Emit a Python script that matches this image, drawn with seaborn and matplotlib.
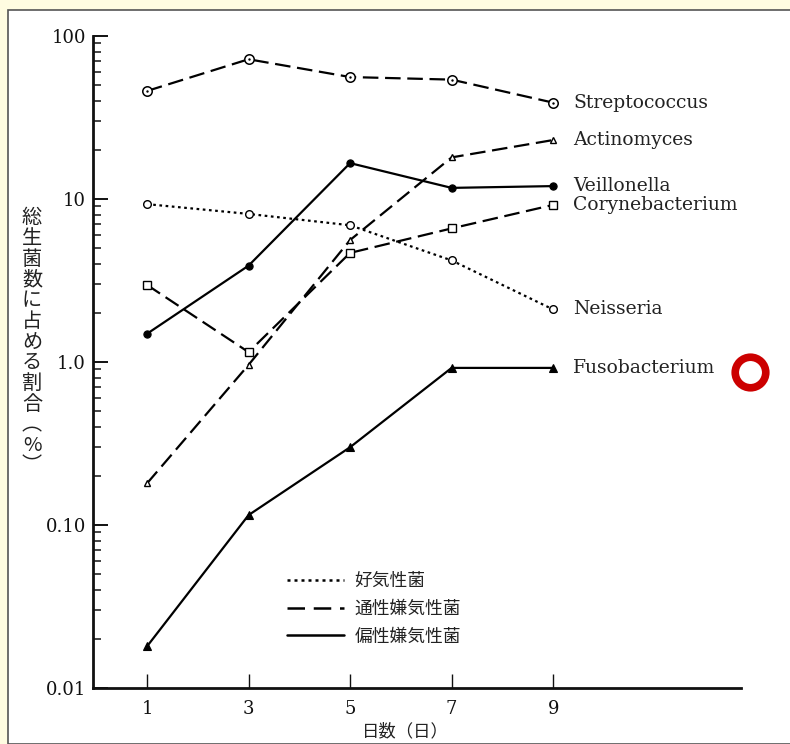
import matplotlib
matplotlib.use("Agg")
import matplotlib.pyplot as plt
import seaborn as sns
import numpy as np
from matplotlib.lines import Line2D
from matplotlib.patches import Rectangle
from matplotlib.ticker import LogLocator, FixedLocator, NullFormatter

# ---- data ----
days = [1, 3, 5, 7, 9]
streptococcus = [46, 72, 56, 54, 39]
actinomyces = [0.18, 0.96, 5.6, 18, 23]
veillonella = [1.49, 3.9, 16.6, 11.7, 12]
corynebacterium = [2.97, 1.15, 4.67, 6.6, 9.2]
neisseria = [9.3, 8.1, 6.9, 4.2, 2.1]
fusobacterium = [0.018, 0.115, 0.30, 0.92, 0.92]

series_names = ["Streptococcus", "Actinomyces", "Veillonella",
                "Corynebacterium", "Neisseria", "Fusobacterium"]
y_tick_values = [0.01, 0.1, 1, 10, 100]
y_tick_labels = ["0.01", "0.10", "1.0", "10", "100"]
x_tick_values = [1, 3, 5, 7, 9]
legend_labels = ["好気性菌", "通性嫌気性菌", "偏性嫌気性菌"]
ylabel_text = "総生菌数に占める割合︵%︶"
xlabel_text = "日数（日）"

sns.set_style("ticks")
plt.rcParams['font.family'] = ['DejaVu Serif', 'Noto Sans CJK JP']

W, H = 790, 744
fig = plt.figure(figsize=(W / 100, H / 100), dpi=100)
fig.patch.set_facecolor("#FFFCE1")
fig.add_artist(Rectangle((8 / W, 0), 1 - 8 / W + 0.01, 1 - 10 / H,
                         transform=fig.transFigure, facecolor="white",
                         edgecolor="#555555", linewidth=1.2, zorder=0))

ax = fig.add_axes([93 / W, 1 - 688 / H, (741 - 93) / W, (688 - 36) / H])
ax.set_facecolor("none")

dash = (0, (7, 3))
dot = (0, (1.2, 1.6))
lw = 1.6
k = "black"

# Streptococcus: dashed, circle with dot
sns.lineplot(x=days, y=streptococcus, ax=ax, color=k, linewidth=lw, linestyle=dash,
             marker="o", markersize=6.8, markerfacecolor="white",
             markeredgecolor=k, markeredgewidth=1.1)
sns.scatterplot(x=days, y=streptococcus, ax=ax, color=k, s=3, linewidth=0, zorder=5)
# Actinomyces: dashed, small open triangle
sns.lineplot(x=days, y=actinomyces, ax=ax, color=k, linewidth=lw, linestyle=dash,
             marker="^", markersize=4.5, markerfacecolor="white",
             markeredgecolor=k, markeredgewidth=1.0)
# Veillonella: solid, filled circle
sns.lineplot(x=days, y=veillonella, ax=ax, color=k, linewidth=lw, linestyle="-",
             marker="o", markersize=5.2, markerfacecolor=k,
             markeredgecolor=k, markeredgewidth=0.8)
# Corynebacterium: dashed, open square
sns.lineplot(x=days, y=corynebacterium, ax=ax, color=k, linewidth=lw, linestyle=dash,
             marker="s", markersize=5.5, markerfacecolor="white",
             markeredgecolor=k, markeredgewidth=1.0)
# Neisseria: dotted, open circle
sns.lineplot(x=days, y=neisseria, ax=ax, color=k, linewidth=lw, linestyle=dot,
             marker="o", markersize=5.5, markerfacecolor="white",
             markeredgecolor=k, markeredgewidth=1.0)
# Fusobacterium: solid, filled triangle
sns.lineplot(x=days, y=fusobacterium, ax=ax, color=k, linewidth=lw, linestyle="-",
             marker="^", markersize=5.5, markerfacecolor=k,
             markeredgecolor=k, markeredgewidth=0.8)

all_series = [streptococcus, actinomyces, veillonella, corynebacterium, neisseria, fusobacterium]
for name, vals in zip(series_names, all_series):
    ax.text(9.39, vals[-1], name, va="center", ha="left", fontsize=13.5,
            family="DejaVu Serif", color="#222222")

ax.set_yscale("log")
ax.set_ylim(0.01, 100)
ax.set_xlim(-0.064, 12.70)
ax.yaxis.set_major_locator(FixedLocator(y_tick_values))
ax.set_yticklabels(y_tick_labels)
ax.yaxis.set_minor_locator(LogLocator(base=10, subs=np.arange(2, 10)))
ax.yaxis.set_minor_formatter(NullFormatter())
ax.set_xticks(x_tick_values)
ax.set_xticklabels([str(d) for d in x_tick_values])

for s in ["top", "right"]:
    ax.spines[s].set_visible(False)
for s in ["left", "bottom"]:
    ax.spines[s].set_linewidth(2.0)
    ax.spines[s].set_color("#111111")

ax.tick_params(axis="y", which="major", direction="in", length=11, width=1.4,
               labelsize=13, pad=5, colors="#111111")
ax.tick_params(axis="y", which="minor", direction="in", length=6, width=1.2)
ax.tick_params(axis="x", which="major", direction="in", length=10, width=1.0,
               labelsize=13, pad=9, colors="#111111")
ax.set_xlabel("")
ax.set_ylabel("")

fig.text(405 / W, 1 - 731 / H, xlabel_text, ha="center", va="center",
         fontsize=12.5, family=["Noto Sans CJK JP", "DejaVu Sans"], color="#222222")
fig.text(32 / W, 1 - 342 / H, "\n".join(ylabel_text), ha="center", va="center",
         fontsize=14.5, linespacing=0.98, family=["Noto Sans CJK JP", "DejaVu Sans"],
         color="#222222")

handles = [Line2D([], [], color=k, linewidth=1.8, linestyle=dot),
           Line2D([], [], color=k, linewidth=1.8, linestyle=(0, (7, 3.5))),
           Line2D([], [], color=k, linewidth=1.8, linestyle="-")]
leg = ax.legend(handles, legend_labels, loc="upper left",
                bbox_to_anchor=((280 - 93) / 648, (688 - 565) / 652),
                frameon=False, handlelength=3.2, handletextpad=0.6,
                labelspacing=0.55, borderaxespad=0,
                prop={"family": ["Noto Sans CJK JP", "DejaVu Sans"], "size": 12.8})
for t in leg.get_texts():
    t.set_color("#222222")

fig.add_artist(Line2D([750 / W], [1 - 372 / H], marker="o", markersize=22,
                      markerfacecolor="none", markeredgecolor="#CC0000",
                      markeredgewidth=5.5, transform=fig.transFigure))

fig.savefig("out.png", dpi=100, facecolor=fig.get_facecolor())
